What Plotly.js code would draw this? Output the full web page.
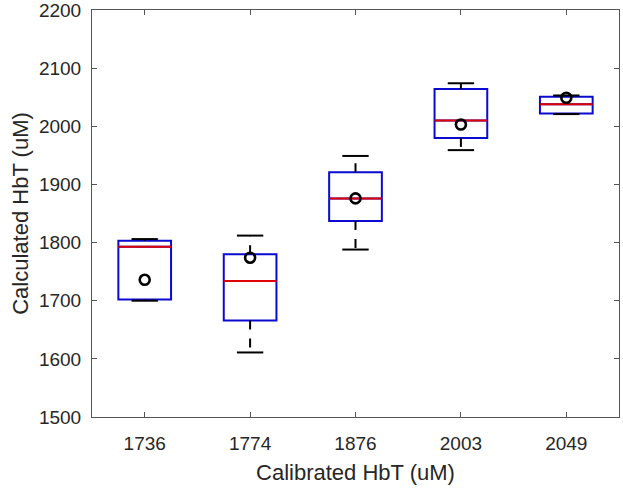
<!DOCTYPE html>
<html>
<head>
<meta charset="utf-8">
<script src="https://cdn.plot.ly/plotly-3.0.1.min.js"></script>
<style>html,body{margin:0;padding:0;background:#fff;}</style>
</head>
<body>
<div id="chart" style="width:623px;height:490px;"></div>
<script>
// Calibrated HbT values (categories, also the circle markers)
var calibrated = [1736, 1774, 1876, 2003, 2049];
var tickLabels = ['1736', '1774', '1876', '2003', '2049'];
// Box statistics of calculated HbT
var lowerWhisker = [1700, 1611, 1788, 1959, 2021];
var q1          = [1702, 1666, 1837, 1980, 2022];
var median      = [1793, 1734, 1876, 2010, 2038];
var q3          = [1803, 1780, 1921, 2064, 2051];
var upperWhisker = [1806, 1812, 1949, 2074, 2053];

var pos = calibrated.map(function(_, i){ return i; });
var boxHalf = 0.25, capHalf = 0.125;

function segs(yA, yB, half) {
  var xs = [], ys = [];
  pos.forEach(function(p, i){
    xs.push(p - half, p + half, null);
    ys.push(yA[i], yB[i], null);
  });
  return {x: xs, y: ys};
}
function vsegs(yA, yB) {
  var xs = [], ys = [];
  pos.forEach(function(p, i){
    xs.push(p, p, null);
    ys.push(yA[i], yB[i], null);
  });
  return {x: xs, y: ys};
}

var blue = '#0a0ad0', red = '#e00000', black = '#000000';

var boxTrace = {
  type: 'box', x: pos, q1: q1, median: median, q3: q3,
  lowerfence: q1, upperfence: q3,
  width: 0.5, whiskerwidth: 0,
  fillcolor: 'rgba(255,255,255,0)',
  line: {color: blue, width: 2},
  boxpoints: false, hoverinfo: 'skip', showlegend: false
};
var upW = vsegs(q3, upperWhisker);
var loW = vsegs(q1, lowerWhisker);
var whiskerTrace = {
  type: 'scatter', mode: 'lines', x: upW.x.concat(loW.x), y: upW.y.concat(loW.y),
  line: {color: black, width: 2, dash: 'dash'}, showlegend: false, hoverinfo: 'skip'
};
var capU = segs(upperWhisker, upperWhisker, capHalf);
var capL = segs(lowerWhisker, lowerWhisker, capHalf);
var capTrace = {
  type: 'scatter', mode: 'lines', x: capU.x.concat(capL.x), y: capU.y.concat(capL.y),
  line: {color: black, width: 2}, showlegend: false, hoverinfo: 'skip'
};
var med = segs(median, median, boxHalf);
var medianTrace = {
  type: 'scatter', mode: 'lines', x: med.x, y: med.y,
  line: {color: red, width: 2}, showlegend: false, hoverinfo: 'skip'
};
var circleTrace = {
  type: 'scatter', mode: 'markers', x: pos, y: calibrated,
  marker: {symbol: 'circle-open', size: 10, color: black, line: {width: 2.6, color: black}},
  showlegend: false, hoverinfo: 'skip'
};

var font = {family: 'Liberation Sans, Arial, sans-serif', color: '#262626', size: 19};
var layout = {
  width: 623, height: 490,
  margin: {l: 92, r: 4, t: 10, b: 73},
  paper_bgcolor: '#fff', plot_bgcolor: '#fff',
  font: font,
  showlegend: false,
  xaxis: {
    range: [-0.5, 4.5], tickmode: 'array', tickvals: pos, ticktext: tickLabels,
    ticks: 'inside', ticklen: 5, tickcolor: '#555', tickwidth: 1,
    showline: true, linecolor: '#555', linewidth: 1, mirror: 'ticks',
    showgrid: false, zeroline: false, ticklabelstandoff: 9, ticklabeloverflow: 'allow',
    title: {text: 'Calibrated HbT (uM)', font: {size: 22, color: '#262626'}, standoff: 11}
  },
  yaxis: {
    range: [1500, 2200], tickmode: 'linear', tick0: 1500, dtick: 100,
    ticks: 'inside', ticklen: 5, tickcolor: '#555', tickwidth: 1,
    showline: true, linecolor: '#555', linewidth: 1, mirror: 'ticks',
    showgrid: false, zeroline: false, ticklabelstandoff: 6, ticklabeloverflow: 'allow',
    title: {text: 'Calculated HbT (uM)', font: {size: 22, color: '#262626'}, standoff: 4}
  }
};

Plotly.newPlot('chart', [boxTrace, whiskerTrace, capTrace, medianTrace, circleTrace], layout, {displayModeBar: false, staticPlot: true});
</script>
</body>
</html>
